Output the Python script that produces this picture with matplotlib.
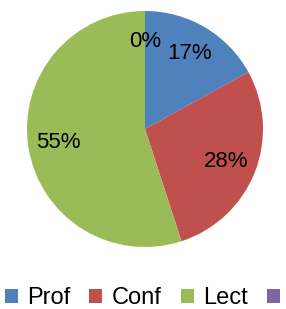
import matplotlib
matplotlib.use("Agg")
import matplotlib.pyplot as plt
from matplotlib.patches import Patch

categories = ["Prof", "Conf", "Lect", ""]
values = [17, 28, 55, 0]
colors = ["#4F81BD", "#C0504D", "#9BBB59", "#8064A2"]

plt.rcParams['font.family'] = ['Liberation Sans', 'DejaVu Sans']

fig = plt.figure(figsize=(2.86, 3.09), dpi=100)
ax = fig.add_axes([27/286, 1 - 247/309, 236/286, 236/309])
wedges, texts, autotexts = ax.pie(values, colors=colors, startangle=90, counterclock=False,
                                  autopct=lambda p: f"{p:.0f}%", pctdistance=0.74,
                                  wedgeprops=dict(linewidth=0))
for t in autotexts:
    t.set_fontsize(16)
    t.set_color("black")
ax.set_xlim(-1, 1)
ax.set_ylim(-1, 1)
ax.set_aspect("equal")

handles = [Patch(facecolor=c) for c in colors]
fig.legend(handles, categories, loc="center", bbox_to_anchor=(147/286, 1 - 298/309), ncol=4,
           frameon=False, fontsize=17, handlelength=0.55, handleheight=0.55,
           handletextpad=0.4, columnspacing=0.8)
fig.savefig("out.png", dpi=100)
